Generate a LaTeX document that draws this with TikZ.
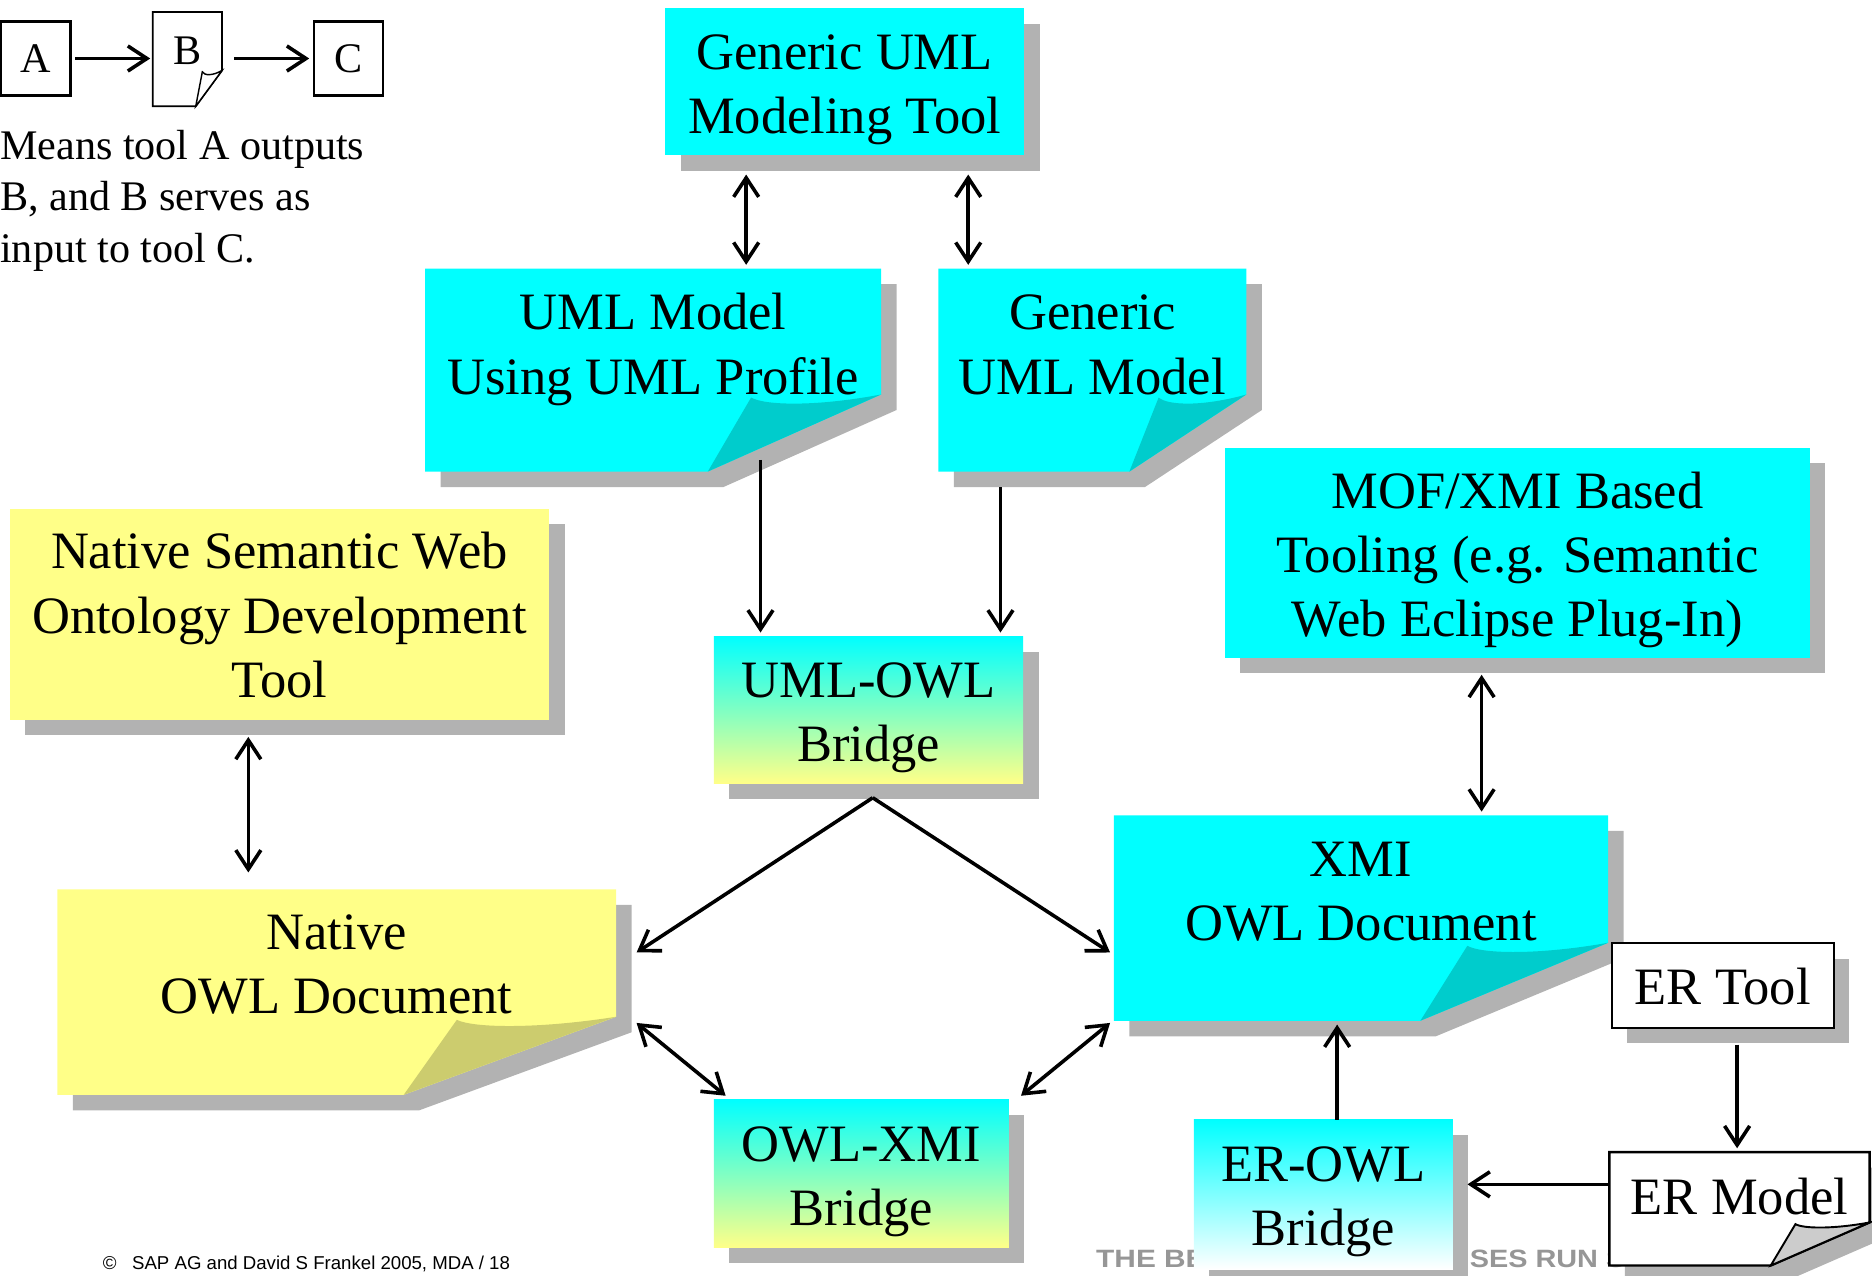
\documentclass[tikz,border=0pt]{standalone}
\usepackage{fontspec}
\setmainfont{Liberation Serif}
\newfontfamily\sansfont{Liberation Sans}
\usetikzlibrary{arrows.meta,shadows,calc}
\definecolor{aqua}{RGB}{0,255,255}
\definecolor{paleyellow}{RGB}{255,255,136}
\definecolor{darkcyan}{RGB}{0,204,204}
\definecolor{darkyellow}{RGB}{204,204,110}
\definecolor{shadowgray}{RGB}{178,178,178}
\definecolor{curlgray}{RGB}{204,204,204}
\definecolor{markgray}{RGB}{150,150,150}
\newcommand{\docshape}[7]{%
    \begin{scope}[shift={(#1,#2)}, x=#3pt, y=-#4pt]
    \path[#5, shift={(13pt,-13pt)}] (0,0) -- (1,0) -- (1,.62) -- (.62,1) -- (0,1) -- cycle;
    \path[#6] (0,0) -- (1,0) -- (1,.62) -- (.62,1) -- (0,1) -- cycle;
    \path[#7] (.62,1) -- (.715,.635) .. controls (.745,.675) and (.86,.68) .. (1,.62) -- cycle;
    \end{scope}
}
\tikzset{
    box/.style={inner sep=0pt,
        drop shadow={shadow xshift=13pt, shadow yshift=-13pt, fill=shadowgray, opacity=1}},
    doc/.style={inner sep=0pt},
    boxlabel/.style={inner sep=0pt, align=center, font=\fontsize{44}{54}\selectfont},
    smallbox/.style={draw, line width=2pt, fill=white, inner sep=0pt, font=\fontsize{35.3}{43}\selectfont},
    slogan/.style={anchor=base west, inner sep=0pt, text=markgray, font=\sansfont\bfseries\fontsize{21}{21}\selectfont},
    barb/.tip={Straight Barb[length=16pt,width=21pt]},
    oneway/.style={line width=3pt, -barb},
    twoway/.style={line width=3pt, barb-barb},
}
\begin{document}
\begin{tikzpicture}[x=1pt, y=-1pt]
\useasboundingbox (0,0) rectangle (1568,1068);
% legend
\node[smallbox, minimum width=58pt, minimum height=62pt] (toola) at (30,49) {A};
\docshape{128}{10}{58}{79}{draw=none}{fill=white, draw, line width=1.5pt}{fill=white, draw, line width=1.2pt}
\node[doc, minimum width=58pt, minimum height=79pt, label={[boxlabel, font=\fontsize{35.3}{43}\selectfont, yshift=7pt]center:B}] (docb) at (157,49.5) {};
\node[smallbox, minimum width=58pt, minimum height=62pt] (toolc) at (292,49) {C};
\draw[oneway, shorten <=3pt, shorten >=2pt] (toola.east) -- (toola.east -| docb.west);
\draw[oneway, shorten <=10pt, shorten >=3pt] (docb.east |- toolc.west) -- (toolc.west);
\node[anchor=north west, inner sep=0pt, align=left, font=\fontsize{35.3}{43}\selectfont] (legendnote) at (0,109) {Means tool A outputs\\B, and B serves as\\input to tool C.};

% UML side
\node[box, fill=aqua, minimum width=301pt, minimum height=123pt, label={[boxlabel, yshift=-6.5pt]center:Generic UML\\Modeling Tool}] (umltool) at (707.5,68.5) {};
\docshape{356}{225}{382}{170}{fill=shadowgray}{fill=aqua}{fill=darkcyan}
\node[doc, minimum width=382pt, minimum height=170pt, label={[boxlabel, yshift=17.5pt]center:UML Model\\Using UML Profile}] (umlmodel) at (547,310) {};
\docshape{786}{225}{258}{170}{fill=shadowgray}{fill=aqua}{fill=darkcyan}
\node[doc, minimum width=258pt, minimum height=170pt, label={[boxlabel, yshift=21pt]center:Generic\\UML Model}] (genmodel) at (915,310) {};
\node[box, top color=aqua, bottom color=paleyellow, minimum width=259pt, minimum height=123pt, label={[boxlabel, yshift=-6.5pt]center:UML-OWL\\Bridge}] (umlowl) at (727.5,594.5) {};

% native side
\node[box, fill=paleyellow, minimum width=452pt, minimum height=177pt, label={[boxlabel, yshift=-1pt]center:Native Semantic Web\\Ontology Development\\Tool}] (semtool) at (234,514.5) {};
\docshape{48}{745}{468}{172}{fill=shadowgray}{fill=paleyellow}{fill=darkyellow}
\node[doc, minimum width=468pt, minimum height=172pt, label={[boxlabel, yshift=23pt]center:Native\\OWL Document}] (natowl) at (282,831) {};

% MOF side
\node[box, fill=aqua, minimum width=490pt, minimum height=176pt, label={[boxlabel, yshift=-6pt]center:MOF/XMI Based\\Tooling (e.g. Semantic\\Web Eclipse Plug-In)}] (moftool) at (1271,463) {};
\docshape{933}{683}{414}{172}{fill=shadowgray}{fill=aqua}{fill=darkcyan}
\node[doc, minimum width=414pt, minimum height=172pt, label={[boxlabel, yshift=22pt]center:XMI\\OWL Document}] (xmiowl) at (1140,769) {};
\node[box, top color=aqua, bottom color=paleyellow, minimum width=247pt, minimum height=124pt, label={[boxlabel, yshift=-7pt]center:OWL-XMI\\Bridge}] (owlxmi) at (721.5,983) {};

% ER side
\node[box, fill=white, draw, line width=2pt, minimum width=186pt, minimum height=71pt, label={[boxlabel, yshift=-1pt]center:ER Tool}] (ertool) at (1443,825.5) {};
\node[slogan] (sloganleft) at (918,1062) {\scalebox{1.19}[1]{THE BE}};
\node[slogan] (sloganright) at (1231,1062) {\scalebox{1.15}[1]{SES RUN SAP}};
\node[box, top color=aqua, bottom color=white, minimum width=217pt, minimum height=125pt, label={[boxlabel, yshift=-6pt]center:ER-OWL\\Bridge}] (erowl) at (1108.5,1000.5) {};
\docshape{1348}{965}{218}{95}{fill=shadowgray}{fill=white, draw, line width=2pt}{fill=curlgray, draw, line width=1.6pt}
\node[doc, minimum width=218pt, minimum height=95pt, label={[boxlabel, yshift=10pt]center:ER Model}] (ermodel) at (1457,1012.5) {};

\node[anchor=base west, inner sep=0pt, font=\sansfont\fontsize{15.6}{18}\selectfont] (credit) at (86,1063) {\textcopyright\hspace{13pt}SAP AG and David S Frankel 2005, MDA / 18};

% connectors
\draw[twoway, shorten <=16pt, shorten >=3pt] (umltool.south -| 625,0) -- (umlmodel.north -| 625,0);
\draw[twoway, shorten <=16pt, shorten >=3pt] (umltool.south -| 811,0) -- (genmodel.north -| 811,0);
\draw[oneway, shorten <=-10pt, shorten >=3pt] (umlmodel.south -| 637,0) -- (umlowl.north -| 637,0);
\draw[oneway, shorten <=13pt, shorten >=3pt] (genmodel.south -| 838,0) -- (umlowl.north -| 838,0);
\coordinate (fork) at ($(umlowl.south)+(3.5,12)$);
\draw[oneway] (fork) -- ($(natowl.north east)+(17,53)$);
\draw[oneway] (fork) -- ($(xmiowl.north west)+(-3,115)$);
\draw[twoway] ($(natowl.north east)+(17,112)$) -- ($(owlxmi.north west)+(10,-3)$);
\draw[twoway] ($(xmiowl.north west)+(-3,174)$) -- ($(owlxmi.north east)+(10,-3)$);
\draw[twoway, shorten <=14pt, shorten >=14pt] (semtool.south -| 208,0) -- (natowl.north -| 208,0);
\draw[twoway, shorten <=14pt, shorten >=3pt] (moftool.south -| 1241,0) -- (xmiowl.north -| 1241,0);
\draw[oneway, shorten <=13pt, shorten >=3pt] (ertool.south -| 1455,0) -- (ermodel.north -| 1455,0);
\draw[oneway, shorten >=12pt] (ermodel.west |- 0,992) -- (erowl.east |- 0,992);
\draw[oneway, shorten >=3pt] (erowl.north -| 1120,0) -- (xmiowl.south -| 1120,0);
\end{tikzpicture}
\end{document}
